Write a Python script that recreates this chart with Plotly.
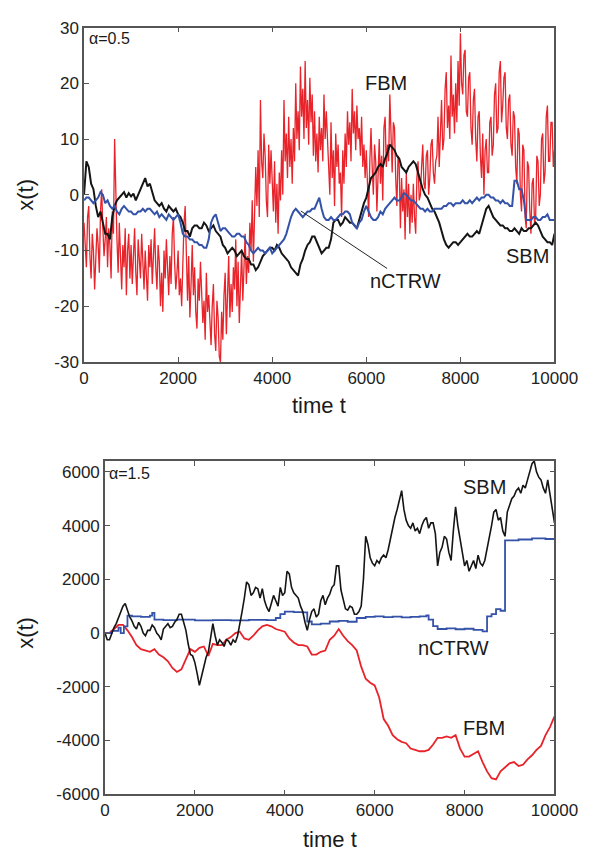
import plotly.graph_objects as go

# ---------------- data: top panel (alpha = 0.5) ----------------
t_fbm_top = list(range(0, 10001, 25))
fbm_top = [
    -5, -9, -13, -4, -2, -11, -15, -7, -10, -17, -12, -6, -9, -14, -3, 1, -6, -11, -8, -4,
    -13, -6, -9, -15, -3, -7, 10, -2, -8, -14, -5, -11, -17, -9, -13, -6, -18, -10, -7, -15,
    -9, -16, -12, -6, -14, -18, -8, -11, -15, -7, -12, -17, -10, -14, -19, -9, -13, -8, -16, -11,
    -6, -13, -17, -9, -12, -20, -14, -21, -10, -15, -8, -13, -18, -11, -16, -7, -4, -12, -17, -14,
    -10, -18, -15, -20, -12, -5, -2, -14, -19, -11, -22, -16, -9, -18, -13, -21, -24, -15, -19, -12,
    -17, -23, -19, -26, -14, -21, -18, -24, -27, -20, -16, -25, -28, -19, -22, -29, -30, -21, -26, -18,
    -14, -25, -19, -11, -22, -16, -21, -13, -17, -8, -20, -12, -23, -15, -10, -19, -14, -7, -16, -11,
    -14, -5, -10, -1, -12, -3, 5, -2, 8, -4, 17, 6, 3, 11, 7, -1, -4, 9, 2, 8,
    3, -3, 6, -5, 2, -7, 4, -1, 8, 0, 17, 6, 11, 3, 14, 5, 10, 2, 12, 6,
    20, 10, 15, 8, 23, 14, 19, 10, 24, 12, 17, 9, 21, 13, 18, 7, 15, 6, 11, 4,
    14, 8, 12, 6, 18, 10, 15, 9, 5, 0, 13, 3, 8, -2, 11, 5, 9, 2, 4, -4,
    8, 2, 11, 5, 15, 9, 13, 6, 19, 11, 15, 8, 16, 10, 12, 7, 14, 5, 9, 3,
    8, 2, -4, 6, 12, 5, 0, 9, 6, -3, 4, 10, 2, 7, -1, 12, 14, 5, 9, 6,
    18, 9, 4, 13, 12, 3, -2, 7, 5, -6, 3, -3, 1, -8, 4, -4, 2, -7, 0, -5,
    2, -4, -7, 3, 6, -1, 0, 5, 9, 2, 1, 7, 8, 0, 3, 9, 10, 4, 2, 6,
    7, 14, 5, 11, 17, 8, 10, 19, 22, 12, 16, 10, 25, 14, 18, 11, 20, 13, 24, 16,
    29, 20, 18, 25, 26, 15, 14, 21, 22, 12, 9, 17, 19, 10, 6, 14, 15, 7, 3, 11,
    0, 8, 10, 4, 4, 13, 14, 7, 9, 18, 20, 11, 12, 22, 24, 13, 16, 21, 22, 12,
    10, 17, 18, 9, 7, 15, 14, 5, 2, 12, 11, 0, -3, 9, 8, -4, -6, 6, 5, -3,
    -7, 2, 3, -5, -4, 7, 6, -2, 0, 10, 11, 2, 4, 14, 16, 6, 6, 13, 13, 5,
    8,
]

t_top = list(range(0, 10001, 50))
sbm_top = [
    0, 6, 5, 2, 1, -2, -4, -3, -5, -7, -7, -8, -4, -2, -1, -0.5, 0, 0.5, -0.5, 0.3,
    -0.3, 0.2, -1, 0, 1, 2, 3, 1.5, 2, 0.5, -1, -1.5, -2, -1.5, -2.5, -3, -2, -2.5, -3, -2.5,
    -3.5, -4, -5, -6.5, -6.5, -7.5, -6, -5.5, -5.5, -6, -6, -5, -5.5, -6.5, -6, -5.5, -6.5, -7, -7.5, -9,
    -9.5, -10.5, -10, -9.5, -10, -11, -10.5, -10, -11, -11.5, -11.5, -12.5, -12.5, -13.5, -13, -12, -11, -10.5, -10, -9.5,
    -9.5, -10, -9, -9.5, -10.5, -11, -11.5, -12, -13, -13.5, -14, -14.5, -12.5, -11.5, -10, -9, -8.5, -7.5, -7.5, -8.5,
    -9.5, -10.5, -10, -9.5, -9.5, -8, -5, -4.5, -4.5, -5.5, -5, -4, -4.5, -5, -5, -5.5, -6, -4.5, -3, -1.5,
    -0.5, 1.5, 3, 3.5, 4, 5, 5.5, 5, 6.5, 7.5, 9, 8.5, 8, 7, 6.5, 5, 4.5, 4, 5, 5.5,
    6, 5.5, 4, 2.5, 1, 0, -0.5, -1.5, -2.5, -3, -4, -5, -6.5, -8, -9, -9.5, -9, -8.5, -8.5, -9,
    -8.5, -8, -7.5, -7, -7.5, -7.5, -7, -6.5, -7, -5.5, -4, -2.5, -2, -3, -4, -4.5, -5, -5.5, -5.5, -6,
    -6, -6.5, -6.5, -6, -6.5, -7, -6, -6.5, -6.5, -6, -6, -5.5, -5, -5.5, -6.5, -7.5, -8, -8.5, -8.5, -9,
    -7,
]
ctrw_top = [
    -1, -0.5, -0.5, -1, -1.5, -1, -0.5, 0.5, 0, -1.5, -1, -2, -2.5, -2, -3, -3.5, -2.5, -2, -2.5, -3,
    -3, -3.5, -3.5, -3, -3, -2.5, -3, -2.5, -2.5, -3, -3.5, -3, -4, -3.5, -4, -4.5, -3.5, -4, -4.5, -4,
    -3.5, -5, -7, -7.5, -7.5, -8, -8, -8.5, -8.5, -9, -9, -9.5, -9.5, -8, -5, -4, -3.5, -5, -6.5, -6,
    -6, -6.5, -7, -7.5, -7.5, -7, -7, -7.5, -7.5, -8.5, -9, -10, -10.5, -10, -9.5, -10, -10, -10.5, -10, -9.5,
    -10.5, -10, -9.5, -9, -8.5, -8, -7, -5.5, -4, -3, -2.5, -3, -3.5, -4, -3.5, -3, -3, -2.5, -2.5, -1.5,
    -0.5, -2.5, -4, -4.5, -4.5, -4, -4.5, -4.5, -4, -3.5, -3.5, -3, -3, -3.5, -5, -5.5, -6, -5, -4.5, -3,
    -2, -3, -4, -4.5, -4.5, -4, -3, -3.5, -2.5, -2, -1.5, -1, -0.5, -1, -1, -0.5, 0.3, 0, -0.5, -1,
    -1, -1.5, -2, -2.5, -2.5, -3, -2.5, -3, -3, -2.5, -2.5, -2.5, -2.5, -2, -2, -1.5, -1.5, -2, -1.5, -1.5,
    -1.5, -1, -1.5, -1.5, -1, -1.5, -1, -0.5, -1, -0.5, -0.5, 0, 0, -0.5, -0.5, -1, -1, -1.5, -1, -1.5,
    -1.5, -2, -2, 2.5, 2.5, 1, 1, -1, -4.5, -4.5, -4.5, -4, -4, -4.5, -4.5, -4, -4, -3.5, -4.5, -4.5,
    -4.5,
]

# ---------------- data: bottom panel (alpha = 1.5) ----------------
t_sbm_bot = list(range(0, 10001, 50))
sbm_bot = [
    0, -250, -250, 0, 200, 350, 550, 800, 1000, 1100, 850, 600, 450, 250, 150, 400, 250, 0, -100, 100,
    100, 300, 200, 0, -100, -250, 150, 250, 350, 200, 250, 400, 500, 700, 700, 400, 100, -400, -800, -850,
    -1100, -1500, -1950, -1600, -1200, -900, -700, -200, 350, -100, -450, -250, -350, -500, -250, -300, -450, -250, -350, -100,
    300, 800, 1300, 1900, 1800, 1400, 1500, 1700, 1650, 1300, 1650, 1200, 950, 800, 1100, 1400, 1200, 1000, 1700, 1400,
    1500, 2300, 2200, 1700, 1500, 1400, 1300, 1000, 800, 400, 100, 500, 800, 900, 600, 700, 1200, 1400, 1050, 1300,
    1450, 1700, 1800, 2500, 2500, 1600, 1200, 900, 850, 1000, 950, 700, 700, 800, 1000, 2000, 3600, 3300, 2800, 2600,
    2500, 2700, 2600, 2800, 2900, 2800, 3100, 3500, 4000, 4300, 4600, 5000, 5300, 4600, 4200, 4000, 3900, 4100, 3800, 3900,
    3700, 4000, 4200, 4300, 3900, 4100, 4100, 3700, 2500, 3000, 3200, 3600, 3500, 3000, 2700, 3800, 4700, 4000, 3400, 3000,
    2500, 2700, 2300, 2500, 2700, 2400, 2900, 2600, 2500, 2700, 3100, 3500, 4000, 4500, 4600, 4200, 4300, 3800, 3600, 4500,
    4800, 5000, 5100, 5300, 5400, 5200, 5500, 5400, 5700, 6000, 6300, 6400, 6000, 5800, 5700, 5400, 5200, 5700, 5100, 4700,
    4100,
]
t_fbm_bot = list(range(0, 10001, 100))
fbm_bot = [
    0, 0, 150, 300, 300, 100, -150, -450, -600, -650,
    -700, -600, -800, -900, -1050, -1300, -1450, -1350, -950, -600,
    -700, -550, -500, -850, -400, -450, -450, -250, -150, 0,
    50, -200, -250, -100, 100, 250, 300, 250, 150, 100,
    50, -200, -350, -450, -450, -500, -800, -800, -700, -650,
    -250, -100, 150, -100, -300, -450, -650, -1250, -1700, -1850,
    -1950, -2400, -3200, -3450, -3800, -3950, -4050, -4100, -4300, -4350,
    -4400, -4400, -4350, -4150, -3900, -3900, -3850, -3900, -3800, -4300,
    -4600, -4600, -4500, -4400, -4800, -5150, -5400, -5450, -5150, -5000,
    -4850, -4800, -4950, -4900, -4700, -4550, -4350, -4200, -3800, -3500,
    -3100,
]
t_ctrw_bot = [0, 150, 300, 350, 420, 500, 600, 800, 1000, 1050, 1100, 1300, 1600,
              2000, 2400, 2800, 3200, 3600, 3800, 3900, 4000, 4200, 4400, 4500, 4600,
              4800, 5000, 5200, 5400, 5600, 5800, 6000, 6200, 6400, 6600, 6800, 7000,
              7150, 7200, 7300, 7400, 7600, 7800, 8000, 8200, 8400, 8500, 8600, 8700,
              8800, 8900, 9200, 9500, 9800, 10000]
ctrw_bot = [0, 80, 200, 0, 250, 650, 620, 600, 650, 750, 500, 480, 500,
            470, 480, 470, 490, 480, 560, 700, 800, 780, 770, 430, 320,
            350, 430, 450, 420, 560, 600, 620, 590, 610, 580, 600, 620,
            660, 500, 260, 150, 170, 140, 160, 120, 60, 620, 700, 890,
            830, 3450, 3480, 3520, 3500, 3510]

x_ticks = [0, 2000, 4000, 6000, 8000, 10000]
x_ticktext = ["0", "2000", "4000", "6000", "8000", "10000"]
y_ticks_top = [-30, -20, -10, 0, 10, 20, 30]
y_ticktext_top = ["-30", "-20", "-10", "0", "10", "20", "30"]
y_ticks_top_right = [-20, 0, 20]
y_ticks_bot = [-6000, -4000, -2000, 0, 2000, 4000, 6000]
y_ticktext_bot = ["-6000", "-4000", "-2000", "0", "2000", "4000", "6000"]

RED = "#e8232a"
BLACK = "#151515"
BLUE = "#3352a8"
FONT = "Liberation Sans, Arial, sans-serif"
AXC = "#555555"

fig = go.Figure()
# top panel
fig.add_trace(go.Scatter(x=t_fbm_top, y=fbm_top, mode="lines",
                         line=dict(color=RED, width=1.3), xaxis="x", yaxis="y"))
fig.add_trace(go.Scatter(x=t_top, y=sbm_top, mode="lines",
                         line=dict(color=BLACK, width=2), xaxis="x", yaxis="y"))
fig.add_trace(go.Scatter(x=t_top, y=ctrw_top, mode="lines",
                         line=dict(color=BLUE, width=2), xaxis="x", yaxis="y"))
# bottom panel
fig.add_trace(go.Scatter(x=t_fbm_bot, y=fbm_bot, mode="lines",
                         line=dict(color=RED, width=1.8), xaxis="x2", yaxis="y2"))
fig.add_trace(go.Scatter(x=t_ctrw_bot, y=ctrw_bot, mode="lines", line_shape="hv",
                         line=dict(color=BLUE, width=1.8), xaxis="x2", yaxis="y2"))
fig.add_trace(go.Scatter(x=t_sbm_bot, y=sbm_bot, mode="lines",
                         line=dict(color=BLACK, width=1.6), xaxis="x2", yaxis="y2"))

W, H = 608, 860
tick_style = dict(ticks="inside", ticklen=5, tickwidth=1.2, tickcolor=AXC,
                  showgrid=False, zeroline=False,
                  tickfont=dict(family=FONT, size=17, color="#222222"))
ax_common = dict(showline=True, linecolor=AXC, linewidth=1.5, mirror="ticks", **tick_style)

top_dom_y = [1 - 361 / H, 1 - 19 / H]
fig.update_layout(
    width=W, height=H, margin=dict(l=0, r=0, t=0, b=0),
    paper_bgcolor="white", plot_bgcolor="white", showlegend=False,
    xaxis=dict(domain=[83 / W, 577 / W], range=[0, 10000], tickvals=x_ticks,
               ticktext=x_ticktext, anchor="y", **ax_common),
    yaxis=dict(domain=top_dom_y, range=[-30, 30], tickvals=y_ticks_top,
               ticktext=y_ticktext_top, anchor="x", showline=True, linecolor=AXC,
               linewidth=1.5, mirror=True, **tick_style),
    yaxis3=dict(overlaying="y", side="right", anchor="x", range=[-30, 30],
                tickvals=y_ticks_top_right, showticklabels=False, showline=False,
                **tick_style),
    xaxis2=dict(domain=[105 / W, 577 / W], range=[0, 10000], tickvals=x_ticks,
                ticktext=x_ticktext, anchor="y2", **ax_common),
    yaxis2=dict(domain=[1 - 803 / H, 1 - 462 / H], range=[-6000, 6410], tickvals=y_ticks_bot,
                ticktext=y_ticktext_bot, anchor="x2", **ax_common),
)

def txt(s, x, y, size=20, **kw):
    fig.add_annotation(text=s, x=x / W, y=1 - y / H, xref="paper", yref="paper",
                       xanchor=kw.pop("xanchor", "center"), yanchor="middle",
                       showarrow=False, font=dict(family=FONT, size=size, color="#1a1a1a"), **kw)

# axis titles
txt("x(t)", 22, 190, size=22, textangle=-90)
txt("time t", 330, 405, size=22)
txt("x(t)", 22, 638, size=22, textangle=-90)
txt("time t", 341, 849, size=22)

# panel labels
txt("α=0.5", 86, 30, size=16, xanchor="left")
txt("α=1.5", 107, 475, size=16, xanchor="left")

# curve labels top
txt("FBM", 400, 76, size=20)
txt("SBM", 549, 253, size=20)
fig.add_annotation(text="nCTRW", x=4609, y=-2.9, xref="x", yref="y",
                   ax=105, ay=70, showarrow=True, arrowhead=0, arrowwidth=1,
                   arrowcolor="#222222",
                   font=dict(family=FONT, size=20, color="#1a1a1a"))
# curve labels bottom
txt("SBM", 504, 489, size=20)
txt("nCTRW", 471, 653, size=20)
txt("FBM", 503, 735, size=20)

fig.write_html("out.html", config={"displayModeBar": False},
               post_script="document.body.style.margin='0';document.body.style.overflow='hidden';")
